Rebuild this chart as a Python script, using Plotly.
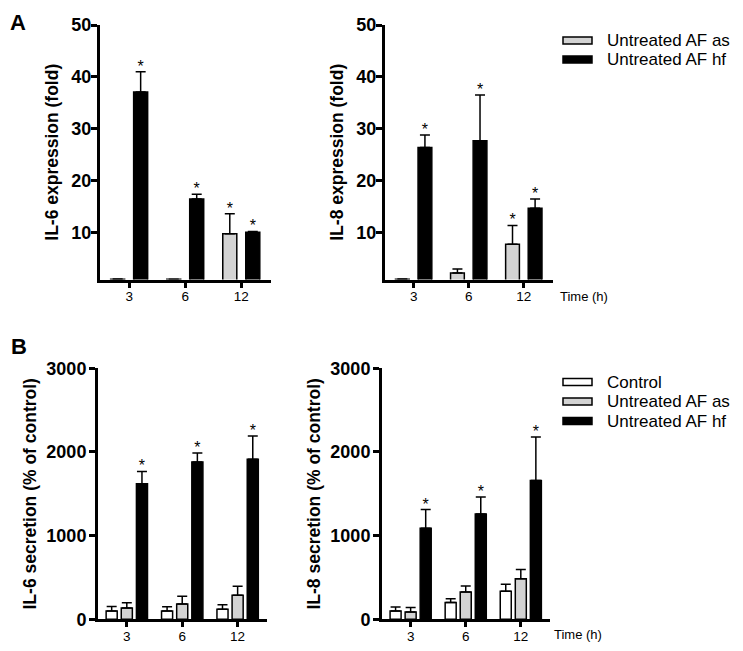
import plotly.graph_objects as go

# ---------------- data ----------------
times = ["3", "6", "12"]

series_A = ["Untreated AF as", "Untreated AF hf"]
series_B = ["Control", "Untreated AF as", "Untreated AF hf"]
fill_colors = {"Control": "#ffffff", "Untreated AF as": "#d3d3d3", "Untreated AF hf": "#000000"}

# Panel A left: IL-6 expression (fold)
il6_expr_as = [1.05, 1.03, 9.8]
il6_expr_as_err = [0.05, 0.03, 3.85]
il6_expr_as_sig = [False, False, True]
il6_expr_hf = [37.1, 16.5, 10.1]
il6_expr_hf_err = [3.9, 0.9, 0.15]
il6_expr_hf_sig = [True, True, True]

# Panel A right: IL-8 expression (fold)
il8_expr_as = [1.05, 2.25, 7.8]
il8_expr_as_err = [0.05, 0.77, 3.6]
il8_expr_as_sig = [False, False, True]
il8_expr_hf = [26.4, 27.7, 14.7]
il8_expr_hf_err = [2.4, 8.8, 1.8]
il8_expr_hf_sig = [True, True, True]

# Panel B left: IL-6 secretion (% of control)
il6_sec_ctrl = [100, 100, 119]
il6_sec_ctrl_err = [52, 49, 56]
il6_sec_as = [135, 183, 287]
il6_sec_as_err = [64, 92, 107]
il6_sec_hf = [1621, 1879, 1912]
il6_sec_hf_err = [147, 108, 278]

# Panel B right: IL-8 secretion (% of control)
il8_sec_ctrl = [100, 200, 335]
il8_sec_ctrl_err = [48, 47, 83]
il8_sec_as = [87, 326, 486]
il8_sec_as_err = [53, 72, 108]
il8_sec_hf = [1088, 1259, 1658]
il8_sec_hf_err = [223, 203, 522]

no_sig = [False, False, False]
all_sig = [True, True, True]

ticks_A = [10, 20, 30, 40, 50]
ticks_B = [0, 1000, 2000, 3000]
title_A_left = "IL-6 expression (fold)"
title_A_right = "IL-8 expression (fold)"
title_B_left = "IL-6 secretion (% of control)"
title_B_right = "IL-8 secretion (% of control)"
time_label = "Time (h)"

# ---------------- style / layout ----------------
# the page body has an 8px default margin: the figure is sized to fit the
# 743x651 window exactly and positions are given in window pixels.
OFF = 8
W, H = 743 - 2 * OFF, 651 - 2 * OFF
FONT = "Arial, 'Liberation Sans', Helvetica, sans-serif"
ASTER_DROP_PX = 4  # asterisks sit a little closer to the error-bar caps


def px_x(p):
    return (p - OFF) / W


def px_y(p):
    return 1 - (p - OFF) / H


panels = [
    dict(n=1, names=series_A, vals=[il6_expr_as, il6_expr_hf],
         errs=[il6_expr_as_err, il6_expr_hf_err], sigs=[il6_expr_as_sig, il6_expr_hf_sig],
         xdom=(100, 271), ydom=(25, 279.5), yrange=[1, 50], ticks=ticks_A,
         title=title_A_left, barw=0.25, standoff=9, ylabsh=-4),
    dict(n=2, names=series_A, vals=[il8_expr_as, il8_expr_hf],
         errs=[il8_expr_as_err, il8_expr_hf_err], sigs=[il8_expr_as_sig, il8_expr_hf_sig],
         xdom=(385, 553), ydom=(25, 279.5), yrange=[1, 50], ticks=ticks_A,
         title=title_A_right, barw=0.25, standoff=9, ylabsh=-4),
    dict(n=3, names=series_B, vals=[il6_sec_ctrl, il6_sec_as, il6_sec_hf],
         errs=[il6_sec_ctrl_err, il6_sec_as_err, il6_sec_hf_err], sigs=[no_sig, no_sig, all_sig],
         xdom=(98, 267), ydom=(368.3, 619.3), yrange=[0, 3000], ticks=ticks_B,
         title=title_B_left, barw=0.2, standoff=6, ylabsh=-1),
    dict(n=4, names=series_B, vals=[il8_sec_ctrl, il8_sec_as, il8_sec_hf],
         errs=[il8_sec_ctrl_err, il8_sec_as_err, il8_sec_hf_err], sigs=[no_sig, no_sig, all_sig],
         xdom=(382, 550), ydom=(368.3, 619.3), yrange=[0, 3000], ticks=ticks_B,
         title=title_B_right, barw=0.2, standoff=6, ylabsh=-1),
]

fig = go.Figure()
layout_axes = {}

for p in panels:
    n = p["n"]
    xa = "x" if n == 1 else f"x{n}"
    ya = "y" if n == 1 else f"y{n}"
    units_per_px = (p["yrange"][1] - p["yrange"][0]) / (p["ydom"][1] - p["ydom"][0])
    for name, v, e in zip(p["names"], p["vals"], p["errs"]):
        fig.add_trace(go.Bar(
            x=times, y=v, name=name, xaxis=xa, yaxis=ya, width=p["barw"],
            marker=dict(color=fill_colors[name], line=dict(color="black", width=1.5)),
            error_y=dict(type="data", array=e, arrayminus=[0] * len(e), symmetric=False,
                         color="black", thickness=1.5, width=5),
            showlegend=False,
        ))
    for name, v, e, s in zip(p["names"], p["vals"], p["errs"], p["sigs"]):
        fig.add_trace(go.Scatter(
            x=times, y=[a + b - ASTER_DROP_PX * units_per_px for a, b in zip(v, e)],
            xaxis=xa, yaxis=ya,
            mode="text", text=["*" if f else "" for f in s], textposition="top center",
            textfont=dict(family=FONT, size=16, color="black"),
            cliponaxis=False, showlegend=False, hoverinfo="skip", name=name,
        ))
    xkey = "xaxis" if n == 1 else f"xaxis{n}"
    ykey = "yaxis" if n == 1 else f"yaxis{n}"
    layout_axes[xkey] = dict(
        domain=[px_x(p["xdom"][0]), px_x(p["xdom"][1])], anchor=ya,
        type="category", categoryorder="array", categoryarray=times,
        range=[-0.52, 2.53], showline=True, linewidth=3, linecolor="black",
        ticks="outside", ticklen=5, tickwidth=3, tickcolor="black",
        showgrid=False, zeroline=False, automargin=False, ticklabelstandoff=-3,
        tickfont=dict(family=FONT, size=13.5, color="black"),
    )
    layout_axes[ykey] = dict(
        domain=[px_y(p["ydom"][1]), px_y(p["ydom"][0])], anchor=xa,
        range=p["yrange"], tickvals=p["ticks"], showline=True, linewidth=3,
        linecolor="black", ticks="outside", ticklen=6, tickwidth=3, tickcolor="black",
        showgrid=False, zeroline=False, automargin=False, ticklabelstandoff=p["ylabsh"],
        tickfont=dict(family=FONT, size=18, color="black", weight="bold"),
        title=dict(text=p["title"], standoff=p["standoff"],
                   font=dict(family=FONT, size=17.5, color="black", weight="bold")),
    )

# manual legends
shapes = []
annotations = []
legend_rows = [
    (series_A, [40.5, 59.5]),
    (series_B, [382, 401.5, 421]),
]
for names, rows in legend_rows:
    for name, yc in zip(names, rows):
        shapes.append(dict(type="rect", xref="paper", yref="paper",
                           x0=px_x(563), x1=px_x(592), y0=px_y(yc + 3.5), y1=px_y(yc - 3.5),
                           fillcolor=fill_colors[name], line=dict(color="black", width=1.5)))
        annotations.append(dict(text=name, xref="paper", yref="paper", x=px_x(605), y=px_y(yc),
                                xanchor="left", yanchor="middle", showarrow=False,
                                font=dict(family=FONT, size=17, color="black")))

# panel letters
annotations.append(dict(text="A", xref="paper", yref="paper", x=px_x(8), y=px_y(8),
                        xanchor="left", yanchor="top", showarrow=False,
                        font=dict(family=FONT, size=22, color="black", weight="bold")))
annotations.append(dict(text="B", xref="paper", yref="paper", x=px_x(9), y=px_y(346),
                        xanchor="left", yanchor="middle", showarrow=False,
                        font=dict(family=FONT, size=22, color="black", weight="bold")))

for xl, yc in [(558, 296.5), (552, 634)]:
    annotations.append(dict(text=time_label, xref="paper", yref="paper", x=px_x(xl), y=px_y(yc),
                            xanchor="left", yanchor="middle", showarrow=False,
                            font=dict(family=FONT, size=13, color="black")))

fig.update_layout(
    width=W, height=H, margin=dict(l=0, r=0, t=0, b=0),
    paper_bgcolor="white", plot_bgcolor="white",
    barmode="group", bargap=0.18, scattermode="group",
    showlegend=False, shapes=shapes, annotations=annotations,
    font=dict(family=FONT, color="black"),
    **layout_axes,
)

fig.write_html("out.html")
